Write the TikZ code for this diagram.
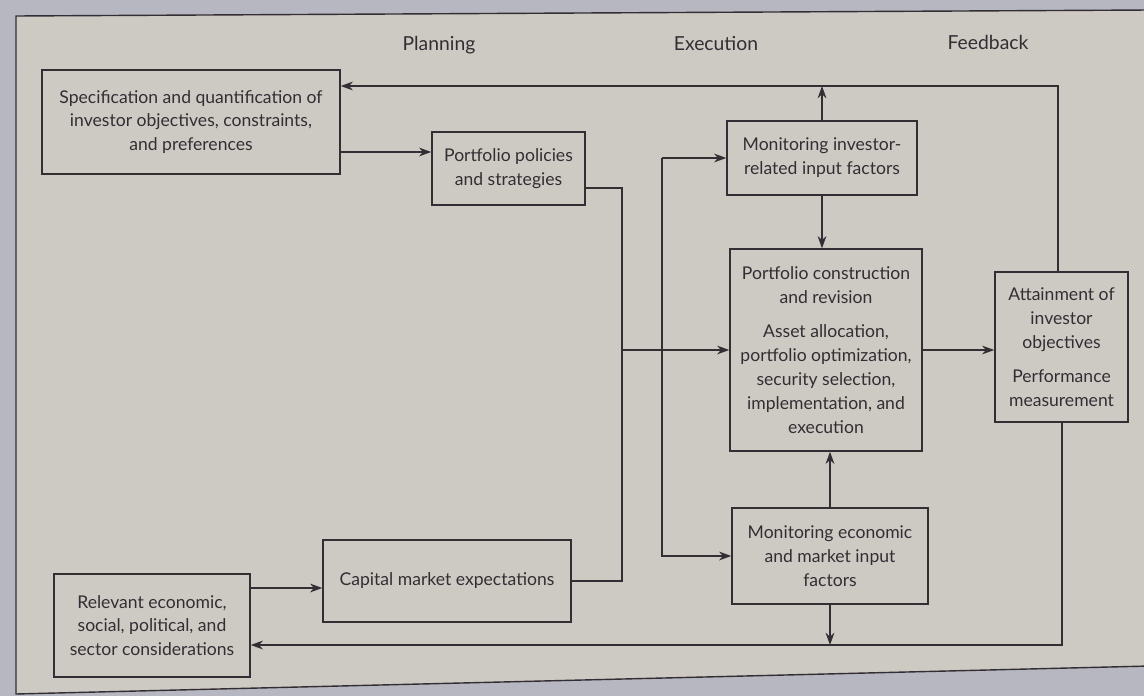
\documentclass[tikz,border=0pt]{standalone}
\usepackage{fontspec}
\setmainfont{Lato}
\usetikzlibrary{arrows.meta}
\definecolor{paper}{HTML}{CDCAC4}
\definecolor{outer}{HTML}{B6B7C1}
\definecolor{ink}{HTML}{332E33}
\begin{document}
\begin{tikzpicture}[x=0.02cm,y=-0.02cm,
  box/.style={draw=ink,line width=0.8pt,align=center,text=ink,inner sep=2pt,
    font=\fontsize{10}{13.6}\selectfont},
  head/.style={text=ink,font=\fontsize{11}{13}\selectfont},
  conn/.style={draw=ink,line width=0.8pt},
  arr/.style={conn,-{Stealth[length=7pt,width=5pt]}}]
\useasboundingbox (0,0) rectangle (1144,696);
\fill[outer] (0,0) rectangle (1144,696);
\filldraw[fill=paper,draw=ink,line width=0.8pt] (16,16) -- (1150,10) -- (1150,666) -- (16,694) -- cycle;
% headings
\node[head] (hp) at (439,45) {Planning};
\node[head] (he) at (716,43) {Execution};
\node[head] (hf) at (988,42) {Feedback};
% boxes
\node[box,minimum width=5.96cm,minimum height=2.08cm] (spec) at (191,122)
  {Specification and quantification of\\investor objectives, constraints,\\and preferences};
\node[box,minimum width=3.06cm,minimum height=1.46cm] (pol) at (508.5,168.5)
  {Portfolio policies\\and strategies};
\node[box,minimum width=3.8cm,minimum height=1.48cm] (moninv) at (822,158)
  {Monitoring investor-\\related input factors};
\node[box,minimum width=3.84cm,minimum height=4.04cm] (cons) at (826,350)
  {Portfolio construction\\and revision\\[6pt]Asset allocation,\\portfolio optimization,\\security selection,\\implementation, and\\execution};
\node[box,minimum width=2.66cm,minimum height=3.0cm] (att) at (1061.5,347)
  {Attainment of\\investor\\objectives\\[6pt]Performance\\measurement};
\node[box,minimum width=3.92cm,minimum height=1.92cm] (moneco) at (830,556)
  {Monitoring economic\\and market input\\factors};
\node[box,minimum width=4.96cm,minimum height=1.64cm] (cap) at (447,581)
  {Capital market expectations};
\node[box,minimum width=3.92cm,minimum height=2.06cm] (rel) at (152,625.5)
  {Relevant economic,\\social, political, and\\sector considerations};
% helper coordinates
\coordinate (fbT) at (1058,86);
\coordinate (fbB) at (1062,645);
\coordinate (a1) at (0,152);
\coordinate (a2) at (0,588);
\coordinate (j1) at (622,188);
\coordinate (j2) at (662,0);
% connectors
\draw[arr] (att.north -| fbT) -- (fbT) -- (spec.east |- fbT);
\draw[arr] (moninv.north) -- (moninv.north |- fbT);
\draw[arr] (moninv.south) -- (moninv.south |- cons.north);
\draw[arr] (spec.east |- a1) -- (pol.west |- a1);
\draw[conn] (pol.east |- j1) -- (j1) -- (cap.east -| j1) -- (cap.east);
\draw[arr] (cons.west -| j1) -- (cons.west);
\draw[arr] (moninv.west -| j2) |- (moneco.west);
\draw[arr] (moninv.west -| j2) -- (moninv.west);
\draw[arr] (cons.east) -- (cons.east -| att.west);
\draw[arr] (moneco.north) -- (moneco.north |- cons.south);
\draw[arr] (moneco.south) -- (moneco.south |- fbB);
\draw[arr] (att.south -| fbB) -- (fbB) -- (rel.east |- fbB);
\draw[arr] (rel.east |- a2) -- (cap.west |- a2);
\end{tikzpicture}
\end{document}
